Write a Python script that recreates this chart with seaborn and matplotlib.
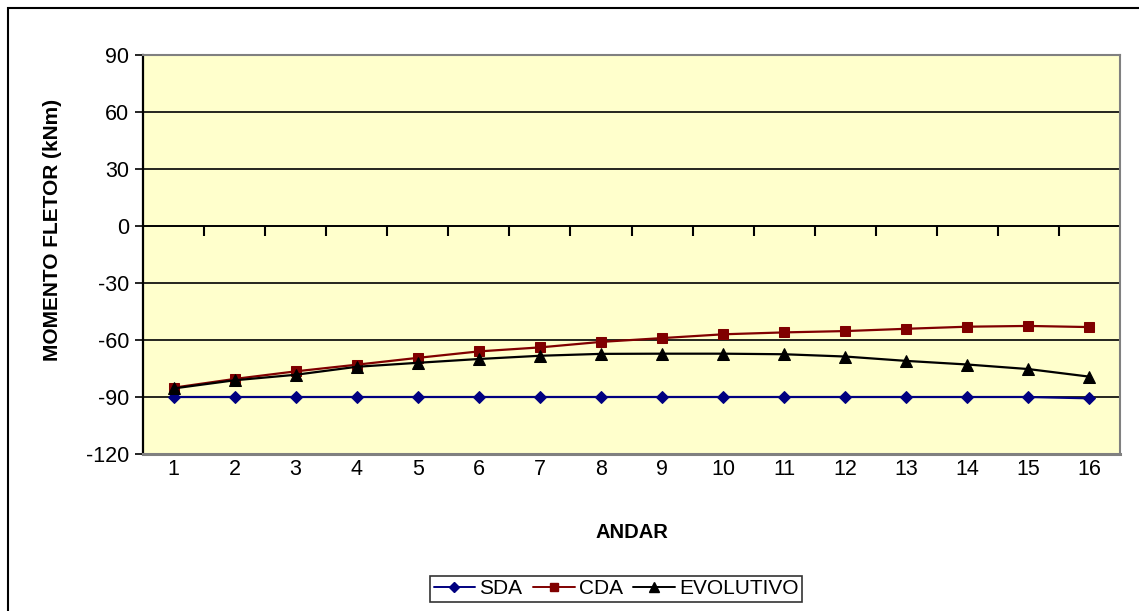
import matplotlib
matplotlib.use("Agg")
import matplotlib.pyplot as plt
import matplotlib.patches as mpatches
import seaborn as sns
import pandas as pd

# Floor numbers and bending moments (kNm) for each analysis model
andar = list(range(1, 17))
sda = [-90, -90, -90, -90, -90, -90, -90, -90, -90, -90, -90, -90, -90, -90, -90, -90.7]
cda = [-85.1, -80.5, -76.5, -73.0, -69.4, -66.0, -63.9, -61.0,
       -59.0, -57.0, -56.0, -55.3, -54.1, -53.0, -52.6, -53.2]
evolutivo = [-85.5, -81.2, -78.3, -74.1, -72.0, -70.0, -68.3, -67.3,
             -67.2, -67.2, -67.5, -68.7, -71.0, -72.9, -75.3, -79.3]
y_ticks = [90, 60, 30, 0, -30, -60, -90, -120]

series_names = ["SDA", "CDA", "EVOLUTIVO"]
series_vals = [sda, cda, evolutivo]
series_colors = ["#000080", "#800000", "#000000"]
series_markers = ["D", "s", "^"]
series_msize = [6.5, 6.5, 8]

df = pd.concat(
    [pd.DataFrame({"ANDAR": andar, "MOMENTO": v, "serie": n})
     for n, v in zip(series_names, series_vals)],
    ignore_index=True,
)

sns.set_theme(style="white")
plt.rcParams["font.family"] = ["Liberation Sans", "DejaVu Sans"]
plt.rcParams["axes.unicode_minus"] = False
plt.rcParams["text.color"] = "black"
plt.rcParams["axes.labelcolor"] = "black"

fig = plt.figure(figsize=(11.39, 6.11), dpi=100)
ax = fig.add_axes([143 / 1139, 1 - 454 / 611, (1120 - 143) / 1139, (454 - 55) / 611])
ax.set_facecolor("#FFFFCC")

# Horizontal gridlines at each major y value
for yv in y_ticks[1:-1]:
    ax.axhline(yv, color="black", lw=1.2, zorder=1)

for name, color, mk, ms in zip(series_names, series_colors, series_markers, series_msize):
    sub = df[df["serie"] == name]
    sns.lineplot(data=sub, x="ANDAR", y="MOMENTO", ax=ax, color=color,
                 marker=mk, markersize=ms, markeredgecolor=color,
                 markerfacecolor=color, lw=1.6, label=name, zorder=3,
                 legend=False)

ax.set_xlim(0.5, 16.5)
ax.set_ylim(-120, 90)
ax.set_yticks(y_ticks)
ax.set_xticks(andar)
ax.tick_params(axis="x", length=0, pad=3.5, labelsize=15.5, labelcolor="black")
ax.tick_params(axis="y", direction="out", length=6, width=1.2, color="black",
               left=True, pad=4, labelsize=15.5, labelcolor="black")

for side in ["top", "right", "bottom"]:
    ax.spines[side].set_color("#808080")
    ax.spines[side].set_linewidth(1.5)
ax.spines["bottom"].set_linewidth(2.2)
ax.spines["left"].set_color("black")
ax.spines["left"].set_linewidth(1.6)

# Category-boundary tick marks on the zero line
zero_axis = ax.secondary_xaxis(0, transform=ax.transData)
zero_axis.set_xticks([a + 0.5 for a in andar[:-1]])
zero_axis.set_xticklabels([])
zero_axis.tick_params(direction="out", length=7, width=1.5, color="black")
zero_axis.spines["bottom"].set_color("black")
zero_axis.spines["bottom"].set_linewidth(1.2)

ax.set_xlabel("ANDAR", fontsize=14.5, fontweight="bold", labelpad=31)
ax.set_ylabel("MOMENTO FLETOR (kNm)", fontsize=15, fontweight="bold")
ax.yaxis.set_label_coords(-0.083, 0.561)

handles = [plt.Line2D([], [], color=c, marker=m, markersize=s * 0.85, lw=1.4,
                      markerfacecolor=c, markeredgecolor=c)
           for c, m, s in zip(series_colors, series_markers, series_msize)]
leg = fig.legend(handles, series_names, loc="center", ncol=3,
                 bbox_to_anchor=(616 / 1139, 1 - 589 / 611), fontsize=15,
                 frameon=True, fancybox=False, handlelength=2.0,
                 handletextpad=0.2, columnspacing=0.5, borderpad=0.15,
                 borderaxespad=0.2)
leg.get_frame().set_edgecolor("black")
leg.get_frame().set_linewidth(1.2)

# Outer chart border (left and top edges visible)
fig.patches.append(mpatches.Rectangle((8 / 1139, -0.05), 1.2, 1 - 8 / 611 + 0.05,
                                      transform=fig.transFigure, fill=False,
                                      edgecolor="black", lw=1.5))

fig.savefig("out.png", dpi=100)
